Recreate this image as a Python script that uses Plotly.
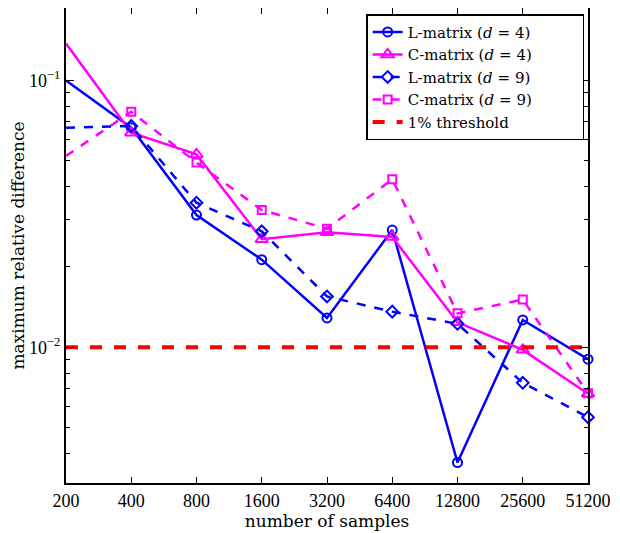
import plotly.graph_objects as go
import numpy as np

samples = [200, 400, 800, 1600, 3200, 6400, 12800, 25600, 51200]
sample_labels = [str(s) for s in samples]
L4 = [0.100, 0.0665, 0.0313, 0.0213, 0.01288, 0.0275, 0.00370, 0.01266, 0.00902]
C4 = [0.1375, 0.0637, 0.0528, 0.0254, 0.0270, 0.0259, 0.0124, 0.00978, 0.0067]
L9 = [0.0665, 0.0675, 0.0348, 0.0272, 0.0155, 0.0136, 0.01224, 0.00736, 0.00547]
C9 = [0.0521, 0.0763, 0.0492, 0.0327, 0.0278, 0.0426, 0.0134, 0.01509, 0.00673]
threshold = [0.01] * len(samples)

FONT_TICK = "Liberation Serif"
FONT_TEXT = "DejaVu Serif"
fig = go.Figure()

def add(y, name, color, symbol, dash, width=2.5, size=9):
    fig.add_trace(go.Scatter(
        x=samples, y=y, name=name, mode="lines+markers",
        line=dict(color=color, width=width, dash=dash),
        marker=dict(symbol=symbol, size=size, color=color,
                    line=dict(color=color, width=2)),
        cliponaxis=False))

S = "&#8196;"
PAD = "&#8195;&#8195;&#8195;&#8203;"
add(L4, f"L-matrix (<i>d</i>{S}={S}4){PAD}", "#0000ff", "circle-open", "solid")
add(C4, f"C-matrix (<i>d</i>{S}={S}4){PAD}", "#ff00ff", "triangle-up-open", "solid", size=11)
add(L9, f"L-matrix (<i>d</i>{S}={S}9){PAD}", "#0000ff", "diamond-open", "dash")
add(C9, f"C-matrix (<i>d</i>{S}={S}9){PAD}", "#ff00ff", "square-open", "dash", size=8)
fig.add_trace(go.Scatter(x=samples, y=threshold, name="1% threshold", mode="lines",
                         line=dict(color="#ff0000", width=4, dash="dash")))

minor_y = []
for e in [-3, -2, -1]:
    for m in range(2, 10):
        minor_y.append(m * 10.0 ** e)

fig.update_layout(
    width=604, height=525,
    margin=dict(l=58, r=24, t=0, b=50),
    paper_bgcolor="white", plot_bgcolor="white",
    font=dict(family=FONT_TICK, size=18, color="black"),
    showlegend=True,
    legend=dict(x=0.575, y=0.987, xanchor="left", yanchor="top",
                bordercolor="black", borderwidth=1.5, bgcolor="white",
                font=dict(family=FONT_TEXT, size=15), tracegroupgap=0),
    xaxis=dict(type="log", range=[np.log10(200), np.log10(51200)],
               tickvals=samples, ticktext=sample_labels, automargin=False,
               ticklabeloverflow="allow",
               ticks="inside", ticklen=6, tickcolor="black", tickwidth=1,
               showline=True, linecolor="black", linewidth=2, mirror="allticks",
               showgrid=False, zeroline=False,
               title=dict(text="number of samples", standoff=6,
                          font=dict(family=FONT_TEXT, size=17)),
               tickfont=dict(family=FONT_TICK, size=18)),
    yaxis=dict(type="log", range=[np.log10(0.0031), np.log10(0.1868)],
               tickvals=[0.01, 0.1], ticktext=["10<sup>−2</sup>", "10<sup>−1</sup>"],
               automargin=False,
               ticks="inside", ticklen=8, tickcolor="black", tickwidth=1,
               minor=dict(tickvals=minor_y, ticks="inside", ticklen=4,
                          tickcolor="black", tickwidth=1, showgrid=False),
               showline=True, linecolor="black", linewidth=2, mirror="allticks",
               showgrid=False, zeroline=False,
               title=dict(text="maximum relative difference", standoff=0,
                          font=dict(family=FONT_TEXT, size=17)),
               tickfont=dict(family=FONT_TICK, size=18)),
)

fig.write_html("out.html")
